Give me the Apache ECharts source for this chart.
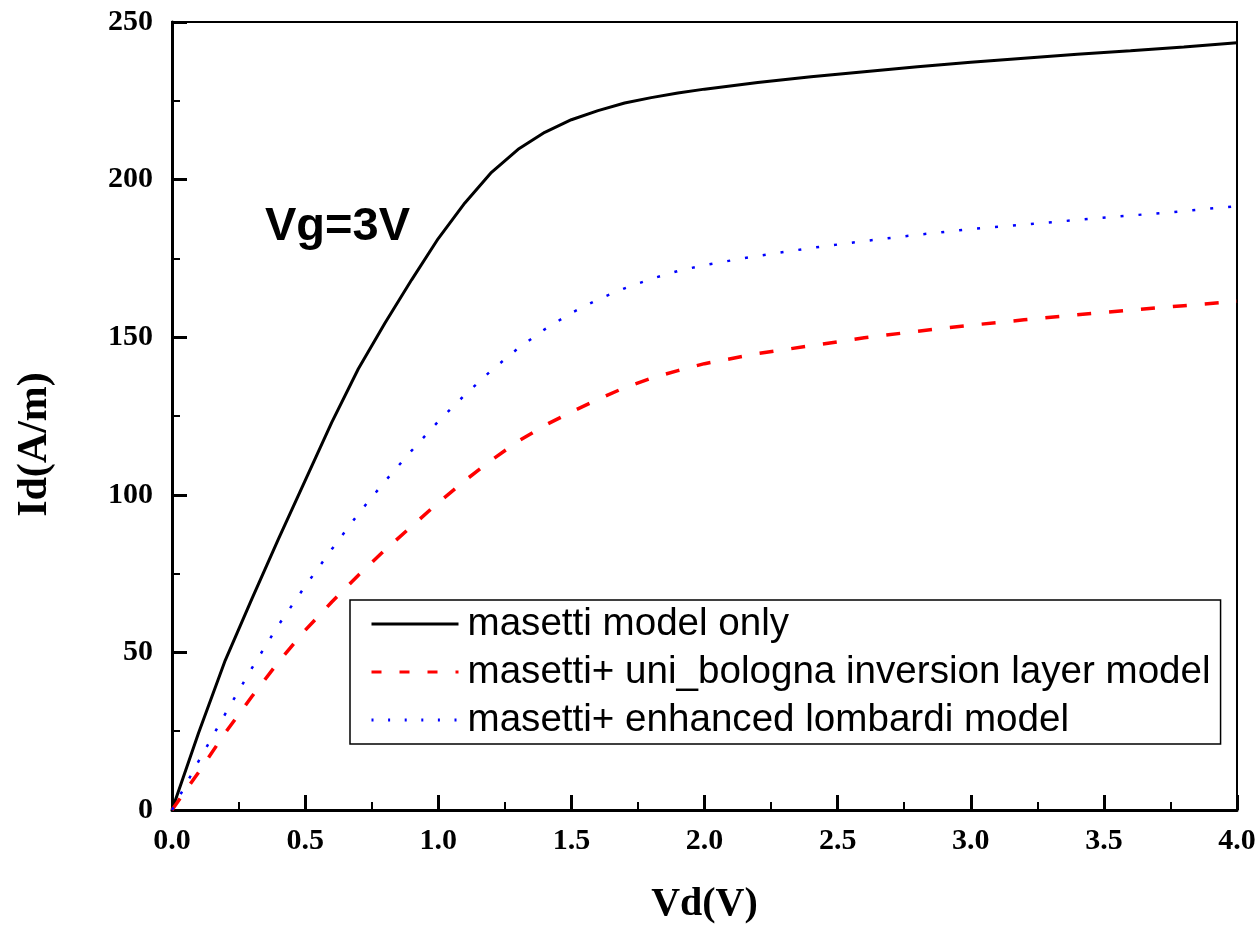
<meta charset="utf-8">
<script src="https://cdn.jsdelivr.net/npm/echarts@6/dist/echarts.min.js"></script>
<div id="main" style="position:absolute;left:0;top:0;width:1260px;height:926px"></div>

<script type="text/javascript">
// Vd (V) sample points
const vd = [0, 0.1, 0.2, 0.3, 0.4, 0.5, 0.6, 0.7, 0.8, 0.9, 1.0, 1.1, 1.2, 1.3, 1.4, 1.5, 1.6, 1.7, 1.8, 1.9,
  2.0, 2.2, 2.4, 2.6, 2.8, 3.0, 3.2, 3.4, 3.6, 3.8, 4.0]
// Id (A/m)
const masettiOnly = [0, 24.5, 47.5, 67, 86, 104.5, 123, 140, 154.5, 168.2, 181.3, 192.6, 202.3, 209.6, 215, 219, 221.9, 224.3, 226, 227.5,
  228.7, 230.8, 232.6, 234.2, 235.8, 237.2, 238.5, 239.8, 240.9, 242.1, 243.4]
const uniBologna = [0, 12, 24.5, 36, 47, 57, 66, 74.5, 82.5, 90, 97.5, 104.5, 111, 117, 122, 126.3, 130.3, 134, 137, 139.4,
  141.6, 144.8, 147.3, 149.8, 151.9, 153.8, 155.5, 157.1, 158.6, 160, 161.4]
const lombardi = [0, 15.5, 30.5, 45, 58.7, 71, 82.7, 94, 104.3, 114, 123.3, 131.7, 139.5, 146.5, 152.5, 157.7, 162, 165.5, 168.5, 171,
  172.9, 175.8, 178.3, 180.5, 182.5, 184.3, 185.7, 187.2, 188.6, 190, 191.6]

const names = ['masetti model only', 'masetti+ uni_bologna inversion layer model', 'masetti+ enhanced lombardi model']

const pair = arr => vd.map((v, i) => [v, arr[i]])

const serif = '"Liberation Serif", "Times New Roman", serif'
const sans = '"Liberation Sans", Arial, sans-serif'

let myChart = echarts.init(main)

myChart.setOption({
  backgroundColor: '#fff',
  animation: false,
  grid: {
    left: 172, right: 23, top: 22, bottom: 116,
    outerBoundsMode: 'none',
    show: true, borderColor: '#000', borderWidth: 2
  },
  legend: {
    orient: 'vertical',
    left: 350, top: 600,
    padding: [0, 10, 0, 20],
    itemGap: 0,
    itemWidth: 87,
    itemHeight: 20,
    borderColor: '#000',
    borderWidth: 1.5,
    backgroundColor: '#fff',
    itemStyle: {opacity: 0},
    lineStyle: {width: 3},
    textStyle: {fontFamily: sans, fontSize: 38.6, lineHeight: 48, color: '#000', padding: [0, 0, 0, 4]},
    data: [
      {name: names[0], lineStyle: {width: 3, type: 'solid'}},
      {name: names[1], lineStyle: {width: 3, type: [10, 18]}},
      {name: names[2], lineStyle: {width: 3, type: [2, 14.6]}}
    ]
  },
  graphic: [{
    type: 'text',
    x: 265, y: 227,
    style: {
      text: 'Vg=3V',
      font: 'bold 47px ' + sans,
      fill: '#000',
      verticalAlign: 'middle'
    }
  }],
  xAxis: {
    type: 'value',
    min: 0, max: 4, interval: 0.5,
    name: 'Vd(V)',
    nameLocation: 'middle',
    nameGap: 75,
    nameTextStyle: {fontFamily: serif, fontWeight: 'bold', fontSize: 40, color: '#000'},
    axisLine: {lineStyle: {color: '#000', width: 3}},
    axisTick: {inside: true, length: 15, lineStyle: {color: '#000', width: 3}},
    minorTick: {show: true, splitNumber: 2, length: 8, lineStyle: {color: '#000', width: 2}},
    splitLine: {show: false},
    axisLabel: {
      margin: 16,
      fontFamily: serif, fontWeight: 'bold', fontSize: 30, color: '#000',
      formatter: v => v.toFixed(1)
    }
  },
  yAxis: {
    type: 'value',
    min: 0, max: 250, interval: 50,
    name: 'Id(A/m)',
    nameLocation: 'middle',
    nameGap: 116,
    nameTextStyle: {fontFamily: serif, fontWeight: 'bold', fontSize: 42, color: '#000', padding: [0, 57, 0, 0]},
    axisLine: {show: true, lineStyle: {color: '#000', width: 3}},
    axisTick: {show: true, inside: true, length: 15, lineStyle: {color: '#000', width: 3}},
    minorTick: {show: true, splitNumber: 2, length: 8, lineStyle: {color: '#000', width: 2}},
    splitLine: {show: false},
    axisLabel: {margin: 19, fontFamily: serif, fontWeight: 'bold', fontSize: 30, color: '#000'}
  },
  series: [{
    name: names[0],
    type: 'line',
    symbol: 'none',
    data: pair(masettiOnly),
    lineStyle: {color: '#000', width: 3},
    itemStyle: {color: '#000'},
    z: 3
  }, {
    name: names[1],
    type: 'line',
    symbol: 'none',
    data: pair(uniBologna),
    lineStyle: {color: '#ff0000', width: 3.5, type: [14, 18]},
    itemStyle: {color: '#ff0000'}
  }, {
    name: names[2],
    type: 'line',
    symbol: 'none',
    data: pair(lombardi),
    lineStyle: {color: '#0000ff', width: 2.5, type: [3, 15]},
    itemStyle: {color: '#0000ff'}
  }]
})
</script>
